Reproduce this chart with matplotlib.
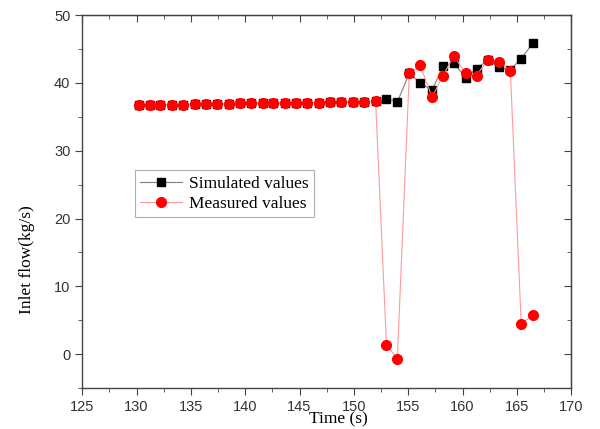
import matplotlib
matplotlib.use("Agg")
import matplotlib.pyplot as plt
from matplotlib.ticker import MultipleLocator

# time stamps (s)
time = [130.2, 131.2, 132.2, 133.3, 134.3, 135.4, 136.4, 137.4, 138.5, 139.5,
        140.5, 141.6, 142.6, 143.7, 144.7, 145.7, 146.8, 147.8, 148.8, 149.9,
        150.9, 152.0, 153.0, 154.0, 155.1, 156.1, 157.2, 158.2, 159.2, 160.3,
        161.3, 162.3, 163.4, 164.4, 165.4, 166.5]

simulated = [36.7, 36.7, 36.8, 36.8, 36.8, 36.9, 36.9, 36.9, 36.9, 37.0,
             37.0, 37.0, 37.0, 37.1, 37.1, 37.1, 37.1, 37.2, 37.2, 37.2,
             37.2, 37.3, 37.7, 37.2, 41.4, 40.0, 38.9, 42.5, 42.9, 40.8,
             42.1, 43.4, 42.3, 41.9, 43.6, 45.9]

measured = [36.7, 36.7, 36.8, 36.8, 36.8, 36.9, 36.9, 36.9, 36.9, 37.0,
            37.0, 37.0, 37.0, 37.1, 37.1, 37.1, 37.1, 37.2, 37.2, 37.2,
            37.2, 37.3, 1.4, -0.7, 41.4, 42.6, 37.9, 41.1, 44.0, 41.4,
            41.1, 43.4, 43.1, 41.8, 4.4, 5.8]

fig = plt.figure(figsize=(6, 4.29), dpi=100)
ax = fig.add_axes([0.137, 0.0956, 0.815, 0.869])

ax.plot(time, simulated, color="#7f7f7f", lw=0.8, marker="s", ms=6,
        mfc="black", mec="black", label="Simulated values", zorder=2)
ax.plot(time, measured, color="#ff9a9a", lw=0.8, marker="o", ms=7,
        mfc="red", mec="red", label="Measured values", zorder=3)

ax.set_xlim(125, 170)
ax.set_ylim(-5, 50)
ax.xaxis.set_major_locator(MultipleLocator(5))
ax.xaxis.set_minor_locator(MultipleLocator(2.5))
ax.yaxis.set_major_locator(MultipleLocator(10))
ax.yaxis.set_minor_locator(MultipleLocator(5))

for s in ax.spines.values():
    s.set_color("#444444")
    s.set_linewidth(1.0)

ax.tick_params(which="both", direction="out", colors="#444444",
               labelcolor="#333333", labelsize=10.5)
ax.tick_params(which="major", length=5)
ax.tick_params(which="minor", length=3)
for lbl in ax.get_xticklabels() + ax.get_yticklabels():
    lbl.set_family("Liberation Sans")

# inward ticks on the mirrored axes
top = ax.secondary_xaxis("top")
top.xaxis.set_major_locator(MultipleLocator(5))
top.xaxis.set_minor_locator(MultipleLocator(2.5))
top.tick_params(which="both", direction="in", labeltop=False, colors="#444444")
top.tick_params(which="major", length=5)
top.tick_params(which="minor", length=3)
right = ax.secondary_yaxis("right")
right.yaxis.set_major_locator(MultipleLocator(10))
right.yaxis.set_minor_locator(MultipleLocator(5))
right.tick_params(which="both", direction="in", labelright=False, colors="#444444")
right.tick_params(which="major", length=5)
right.tick_params(which="minor", length=3)

ax.set_xlabel("Time (s)", family="Liberation Serif", fontsize=12.5)
ax.set_ylabel("Inlet flow(kg/s)", family="Liberation Serif", fontsize=12.5, labelpad=14)
ax.xaxis.set_label_coords(0.523, -0.062, transform=ax.transAxes)
ax.yaxis.label.set_y(0.343)
ax.xaxis.label.set_verticalalignment("top")

leg = ax.legend(loc="upper left", bbox_to_anchor=(0.108, 0.584),
                borderaxespad=0,
                prop={"family": "Liberation Serif", "size": 12.5},
                fancybox=False, framealpha=1, edgecolor="#b0b0b0",
                handlelength=2.4, borderpad=0.3, labelspacing=0.25,
                handletextpad=0.4)
leg.get_frame().set_linewidth(0.8)

fig.savefig("out.png", dpi=100)
